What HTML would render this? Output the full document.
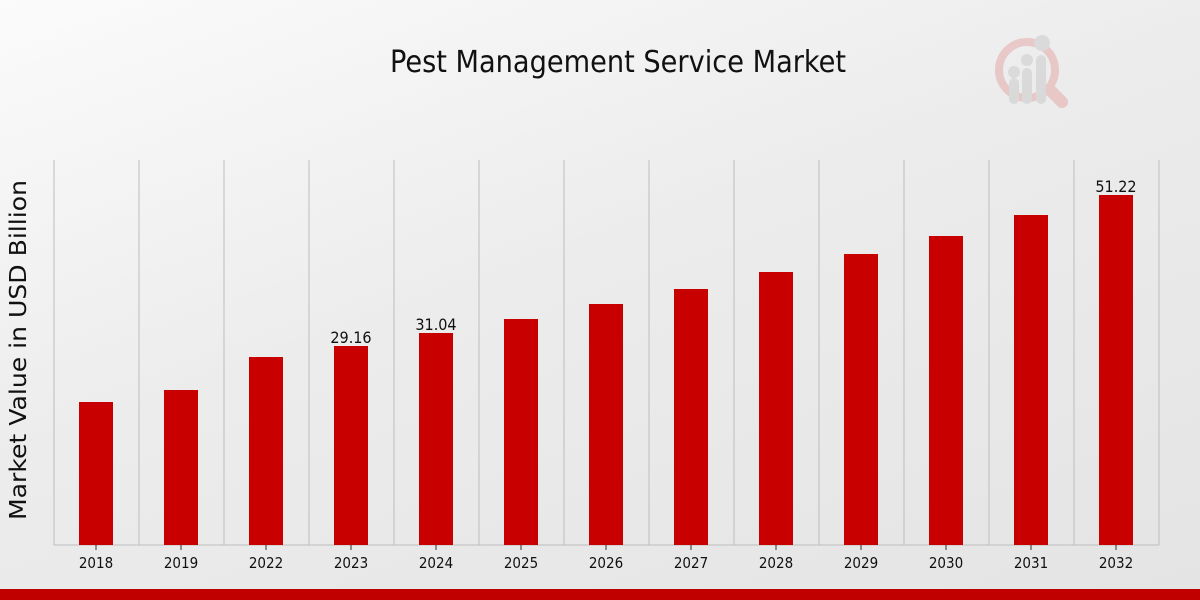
<!DOCTYPE html>
<html><head><style>
html,body{margin:0;padding:0;}
body{width:1200px;height:600px;overflow:hidden;background:linear-gradient(160deg,#fbfbfb 0%,#ececec 45%,#e4e4e4 100%);}
</style></head><body>
<svg width="1200" height="600" xmlns="http://www.w3.org/2000/svg" style="position:absolute;left:0;top:0;font-family:'DejaVu Sans Condensed','DejaVu Sans',sans-serif">
<text x="618" y="72" text-anchor="middle" font-size="30" fill="#111" textLength="456" lengthAdjust="spacingAndGlyphs">Pest Management Service Market</text>
<g opacity="0.5">
<circle cx="1027" cy="70" r="28" fill="none" stroke="#e5a3a3" stroke-width="8"/>
<line x1="1050" y1="90" x2="1062" y2="102" stroke="#e5a3a3" stroke-width="12" stroke-linecap="round"/>
<rect x="1009" y="78" width="10" height="26" rx="5" fill="#c8c8c8"/>
<rect x="1022" y="68" width="10" height="36" rx="5" fill="#c8c8c8"/>
<rect x="1036" y="55" width="10" height="49" rx="5" fill="#c8c8c8"/>
<circle cx="1014" cy="72" r="6" fill="#c8c8c8"/><circle cx="1027" cy="60" r="6" fill="#c8c8c8"/><circle cx="1042" cy="43" r="8" fill="#c8c8c8"/>
</g>
<g stroke="#bdbdbd" stroke-width="1">
<line x1="54" y1="160" x2="54" y2="545"/><line x1="139" y1="160" x2="139" y2="545"/><line x1="224" y1="160" x2="224" y2="545"/><line x1="309" y1="160" x2="309" y2="545"/><line x1="394" y1="160" x2="394" y2="545"/><line x1="479" y1="160" x2="479" y2="545"/><line x1="564" y1="160" x2="564" y2="545"/><line x1="649" y1="160" x2="649" y2="545"/><line x1="734" y1="160" x2="734" y2="545"/><line x1="819" y1="160" x2="819" y2="545"/><line x1="904" y1="160" x2="904" y2="545"/><line x1="989" y1="160" x2="989" y2="545"/><line x1="1074" y1="160" x2="1074" y2="545"/><line x1="1159" y1="160" x2="1159" y2="545"/>
<line x1="54" y1="545" x2="1159" y2="545"/>
</g>
<g fill="#c80000">
<rect x="79" y="402" width="34" height="143"/><rect x="164" y="390" width="34" height="155"/><rect x="249" y="357" width="34" height="188"/><rect x="334" y="346" width="34" height="199"/><rect x="419" y="333" width="34" height="212"/><rect x="504" y="319" width="34" height="226"/><rect x="589" y="304" width="34" height="241"/><rect x="674" y="289" width="34" height="256"/><rect x="759" y="272" width="34" height="273"/><rect x="844" y="254" width="34" height="291"/><rect x="929" y="236" width="34" height="309"/><rect x="1014" y="215" width="34" height="330"/><rect x="1099" y="195" width="34" height="350"/>
</g>
<g stroke="#333"><line x1="96" y1="545" x2="96" y2="550"/><line x1="181" y1="545" x2="181" y2="550"/><line x1="266" y1="545" x2="266" y2="550"/><line x1="351" y1="545" x2="351" y2="550"/><line x1="436" y1="545" x2="436" y2="550"/><line x1="521" y1="545" x2="521" y2="550"/><line x1="606" y1="545" x2="606" y2="550"/><line x1="691" y1="545" x2="691" y2="550"/><line x1="776" y1="545" x2="776" y2="550"/><line x1="861" y1="545" x2="861" y2="550"/><line x1="946" y1="545" x2="946" y2="550"/><line x1="1031" y1="545" x2="1031" y2="550"/><line x1="1116" y1="545" x2="1116" y2="550"/></g>
<g font-size="15" fill="#111" text-anchor="middle">
<text x="96" y="568">2018</text><text x="181" y="568">2019</text><text x="266" y="568">2022</text><text x="351" y="568">2023</text><text x="436" y="568">2024</text><text x="521" y="568">2025</text><text x="606" y="568">2026</text><text x="691" y="568">2027</text><text x="776" y="568">2028</text><text x="861" y="568">2029</text><text x="946" y="568">2030</text><text x="1031" y="568">2031</text><text x="1116" y="568">2032</text>
<text x="351" y="343" font-size="16">29.16</text><text x="436" y="330" font-size="16">31.04</text><text x="1116" y="192" font-size="16">51.22</text>
</g>
<text transform="translate(26,350) rotate(-90)" text-anchor="middle" font-size="23" fill="#111" font-family="'DejaVu Sans',sans-serif" textLength="340" lengthAdjust="spacingAndGlyphs">Market Value in USD Billion</text>
<rect x="0" y="589" width="1200" height="11" fill="#c00000"/>
</svg>
</body></html>
